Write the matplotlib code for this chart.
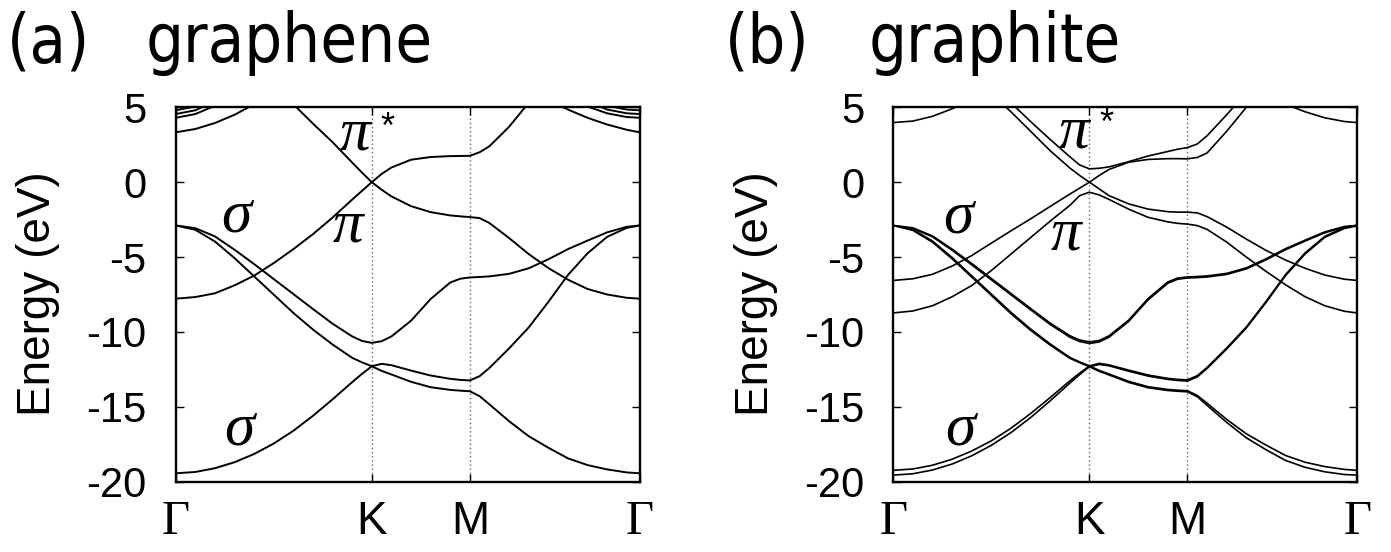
import numpy as np
import matplotlib.pyplot as plt

# k-path positions (Gamma-K = 1)
k = [0, 0.1, 0.2, 0.3, 0.4, 0.5, 0.6, 0.7, 0.8, 0.9, 0.95, 1.0,
     1.05, 1.1, 1.2, 1.3, 1.4, 1.45, 1.5,
     1.55, 1.6, 1.7, 1.8, 1.9, 2.0, 2.1, 2.2, 2.3, 2.366]
k_ticks = [0, 1.0, 1.5, 2.366]
k_labels = ["Γ", "K", "M", "Γ"]
e_ticks = [5, 0, -5, -10, -15, -20]
nan = np.nan

# graphene bands (eV)
g_sA = [-19.44, -19.35, -19.1, -18.7, -18.15, -17.45, -16.6, -15.6, -14.5, -13.35, -12.8, -12.29,
        -12.13, -12.22, -12.58, -12.91, -13.13, -13.2, -13.24,
        -12.95, -12.4, -11.1, -9.7, -8.0, -6.2, -4.75, -3.65, -3.05, -2.89]
g_sB = [-2.89, -3.18, -3.96, -5.07, -6.29, -7.51, -8.73, -9.84, -10.84, -11.73, -12.03, -12.29,
        -12.6, -12.84, -13.33, -13.69, -13.87, -13.92, -13.96,
        -14.29, -14.84, -15.96, -16.96, -17.73, -18.44, -18.89, -19.18, -19.38, -19.44]
g_sC = [-2.89, -3.07, -3.62, -4.51, -5.47, -6.47, -7.47, -8.47, -9.45, -10.3, -10.6, -10.73,
        -10.62, -10.3, -9.25, -7.8, -6.7, -6.45, -6.36,
        -6.33, -6.29, -6.12, -5.75, -5.15, -4.47, -3.9, -3.35, -2.98, -2.89]
g_pi = [-7.78, -7.67, -7.42, -6.89, -6.24, -5.4, -4.47, -3.47, -2.36, -1.16, -0.58, 0.0,
        -0.5, -0.95, -1.6, -2.0, -2.22, -2.28, -2.33,
        -2.4, -2.73, -3.73, -4.8, -5.73, -6.51, -7.13, -7.5, -7.72, -7.78]
g_pis = [nan, nan, nan, nan, 7.7, 6.5, 5.2, 3.91, 2.67, 1.31, 0.64, 0.0,
         0.55, 0.98, 1.5, 1.68, 1.74, 1.75, 1.76,
         2.0, 2.4, 3.7, 5.3, 7.0, nan, nan, nan, nan, nan]
g_up1 = [3.33, 3.55, 3.95, 4.5, 5.2, 6.0, nan, nan, nan, nan, nan, nan,
         nan, nan, nan, nan, nan, nan, nan,
         nan, nan, nan, nan, 5.5, 4.85, 4.3, 3.85, 3.5, 3.33]
g_up2 = [4.3, 4.55, 5.1, nan, nan, nan, nan, nan, nan, nan, nan, nan,
         nan, nan, nan, nan, nan, nan, nan,
         nan, nan, nan, nan, nan, nan, 5.05, 4.6, 4.35, 4.3]
g_up3 = [4.55, 4.8, 5.4, nan, nan, nan, nan, nan, nan, nan, nan, nan,
         nan, nan, nan, nan, nan, nan, nan,
         nan, nan, nan, nan, nan, nan, 5.4, 4.85, 4.6, 4.55]
g_up4 = [4.8, 5.05, 5.6, nan, nan, nan, nan, nan, nan, nan, nan, nan,
         nan, nan, nan, nan, nan, nan, nan,
         nan, nan, nan, nan, nan, nan, nan, 5.1, 4.85, 4.8]

# graphite bands (eV)
t_sA1 = [-19.24, -19.15, -18.9, -18.5, -17.95, -17.27, -16.43, -15.45, -14.38, -13.27, -12.75, -12.27,
         -12.1, -12.2, -12.55, -12.88, -13.1, -13.17, -13.2,
         -12.92, -12.37, -11.07, -9.67, -7.97, -6.17, -4.72, -3.62, -3.02, -2.87]
t_sA2 = [-19.56, -19.47, -19.22, -18.82, -18.27, -17.57, -16.72, -15.72, -14.6, -13.42, -12.85, -12.32,
         -12.17, -12.26, -12.62, -12.95, -13.17, -13.24, -13.28,
         -13.0, -12.44, -11.14, -9.74, -8.04, -6.24, -4.79, -3.69, -3.09, -2.92]
t_sB1 = [-2.89, -3.16, -3.93, -5.03, -6.25, -7.47, -8.69, -9.8, -10.8, -11.7, -12.0, -12.27,
         -12.57, -12.81, -13.3, -13.66, -13.84, -13.89, -13.93,
         -14.24, -14.76, -15.84, -16.8, -17.55, -18.25, -18.7, -18.99, -19.18, -19.24]
t_sB2 = [-2.89, -3.22, -4.01, -5.12, -6.34, -7.56, -8.78, -9.89, -10.88, -11.76, -12.05, -12.32,
         -12.63, -12.87, -13.37, -13.73, -13.91, -13.96, -14.0,
         -14.33, -14.9, -16.04, -17.07, -17.86, -18.58, -19.04, -19.34, -19.52, -19.56]
t_sC1 = [-2.89, -3.05, -3.59, -4.47, -5.43, -6.43, -7.43, -8.43, -9.41, -10.25, -10.54, -10.67,
         -10.57, -10.26, -9.21, -7.76, -6.66, -6.4, -6.33,
         -6.3, -6.26, -6.09, -5.72, -5.12, -4.44, -3.87, -3.32, -2.96, -2.89]
t_sC2 = [-2.89, -3.09, -3.65, -4.55, -5.52, -6.52, -7.52, -8.52, -9.5, -10.35, -10.64, -10.77,
         -10.67, -10.35, -9.3, -7.85, -6.75, -6.48, -6.4,
         -6.37, -6.33, -6.16, -5.79, -5.19, -4.51, -3.93, -3.38, -3.0, -2.89]
t_pi1 = [-6.56, -6.45, -6.15, -5.6, -4.9, -4.07, -3.25, -2.45, -1.62, -0.8, -0.4, 0.0,
         -0.45, -0.9, -1.45, -1.8, -1.97, -2.0, -2.0,
         -2.05, -2.3, -3.0, -3.8, -4.55, -5.2, -5.75, -6.2, -6.48, -6.56]
t_pi2 = [-8.73, -8.6, -8.25, -7.65, -6.9, -5.9, -4.8, -3.7, -2.6, -1.55, -0.9, -0.67,
         -0.85, -1.15, -1.8, -2.35, -2.65, -2.75, -2.8,
         -2.9, -3.15, -4.0, -5.0, -5.95, -6.85, -7.65, -8.25, -8.62, -8.73]
t_pis1 = [nan, nan, nan, nan, 7.0, 5.9, 4.7, 3.4, 2.1, 0.95, 0.45, 0.0,
          0.45, 0.85, 1.33, 1.52, 1.57, 1.57, 1.56,
          1.65, 1.95, 3.4, 5.0, 6.5, nan, nan, nan, nan, nan]
t_pis2 = [nan, nan, nan, nan, nan, 6.6, 5.3, 4.05, 2.85, 1.7, 1.15, 0.89,
          0.93, 1.02, 1.37, 1.75, 2.05, 2.2, 2.31,
          2.55, 3.1, 4.5, 6.0, nan, nan, nan, nan, nan, nan]
t_up = [3.98, 4.08, 4.4, 4.9, 5.5, nan, nan, nan, nan, nan, nan, nan,
        nan, nan, nan, nan, nan, nan, nan,
        nan, nan, nan, nan, nan, 5.2, 4.7, 4.3, 4.05, 3.98]

graphene = [g_sA, g_sB, g_sC, g_pi, g_pis, g_up1, g_up2, g_up3, g_up4]
graphite = [t_sA1, t_sA2, t_sB1, t_sB2, t_sC1, t_sC2, t_pi1, t_pi2, t_pis1, t_pis2, t_up]

W, H = 1391, 552
fig = plt.figure(figsize=(W / 100, H / 100), dpi=100)


def px(x, y):
    return x / W, 1 - y / H


SANS = "Liberation Sans"
SERIF = "Liberation Serif"


def draw_panel(left, bands, lw, letter, name, name_x, labels):
    ax = fig.add_axes([left / W, (H - 481.7) / H, 464 / W, 374.4 / H])
    for e in bands:
        ax.plot(k, e, color="black", lw=lw)
    for x in k_ticks[1:3]:
        ax.axvline(x, color="0.4", lw=1.0, ls=(0, (1, 2)), zorder=0)
    ax.set_xlim(k[0], k[-1])
    ax.set_ylim(-20, 5)
    ax.set_yticks(e_ticks)
    ax.set_yticklabels([str(v) for v in e_ticks], fontfamily=SANS, fontsize=30)
    ax.set_xticks(k_ticks)
    ax.set_xticklabels(k_labels, fontfamily=SANS, fontsize=33)
    for lab in ax.get_xticklabels():
        if lab.get_text() == "Γ":
            lab.set_fontfamily(SERIF)
            lab.set_fontsize(35)
    ax.tick_params(axis="y", direction="in", left=True, right=True, length=5.5, width=1.0, pad=21)
    ax.tick_params(axis="x", direction="in", top=True, bottom=True, length=5.5, width=1.0, pad=13.5)
    for s in ax.spines.values():
        s.set_linewidth(1.7)

    # band labels
    for txt, kx, ey in labels:
        ax.text(kx, ey, txt, fontfamily=SERIF, style="italic", fontsize=44,
                ha="center", va="baseline")

    fig.text(*px(left - 137.2, 294), "Energy (eV)", rotation=90, ha="center", va="center",
             fontfamily=SANS, fontsize=33)
    fig.text(*px(left - 168.7, 62), letter, ha="left", va="baseline",
             fontfamily="DejaVu Sans", fontsize=48, fontstretch="condensed")
    fig.text(*px(name_x, 62), name, ha="center", va="baseline",
             fontfamily="DejaVu Sans", fontsize=48, fontstretch="condensed")
    return ax


ax1 = draw_panel(175.7, graphene, 1.4, "(a)", "graphene", 289,
                 [("σ", 0.308, -3.31), ("σ", 0.326, -17.51), ("π", 0.877, -3.98), ("π", 0.915, 2.15)])
ax1.text(1.042, 2.95, "*", fontfamily=SANS, fontsize=26, ha="left", va="baseline")

ax2 = draw_panel(893.3, graphite, 1.2, "(b)", "graphite", 995,
                 [("σ", 0.332, -3.38), ("σ", 0.339, -17.51), ("π", 0.879, -4.51), ("π", 0.922, 2.29)])
ax2.text(1.052, 3.22, "*", fontfamily=SANS, fontsize=26, ha="left", va="baseline")

fig.savefig("out.png", dpi=100)
